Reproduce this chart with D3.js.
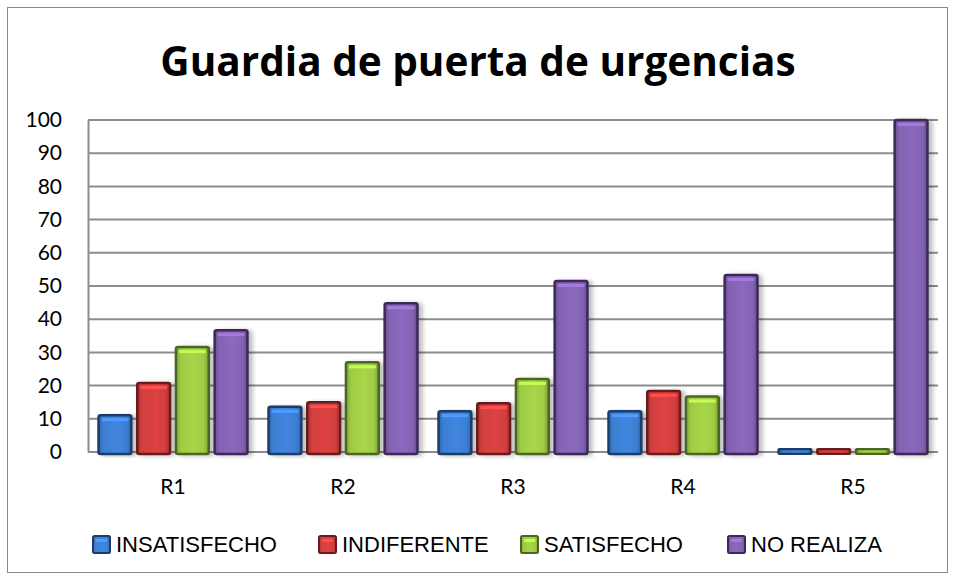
<!DOCTYPE html>
<meta charset="utf-8">

<head>
  <script src="https://d3js.org/d3.v7.min.js"></script>
  <style>
    body { margin: 0; background: #fff; }
  </style>
</head>

<body>
  <svg id="root"></svg>

  <script>
    // Data
    const categories = ["R1", "R2", "R3", "R4", "R5"];
    const seriesNames = ["INSATISFECHO", "INDIFERENTE", "SATISFECHO", "NO REALIZA"];
    const insatisfecho = [11.1, 13.6, 12.3, 12.3, 0];
    const indiferente = [20.8, 15.0, 14.7, 18.4, 0];
    const satisfecho = [31.6, 27.0, 22.0, 16.7, 0];
    const noRealiza = [36.7, 44.8, 51.5, 53.3, 100];
    const yTicks = [0, 10, 20, 30, 40, 50, 60, 70, 80, 90, 100];

    const seriesValues = [insatisfecho, indiferente, satisfecho, noRealiza];
    const fills = ["#3d7fd3", "#d23f3f", "#9fcb45", "#8463b3"];
    const edges = ["#1c3d6b", "#6a1a1a", "#4c6620", "#3b2a58"];

    const W = 955, H = 579;
    const plot = { left: 88, right: 938, top: 120, bottom: 452 };

    const svg = d3.select("#root").attr("width", W).attr("height", H);

    // outer frame
    svg.append("rect")
      .attr("x", 7.5).attr("y", 7.5)
      .attr("width", 940).attr("height", 565)
      .attr("fill", "#fff")
      .attr("stroke", "#888")
      .attr("stroke-width", 1);

    const defs = svg.append("defs");
    defs.append("filter")
      .attr("id", "shadow")
      .attr("x", "-20%").attr("y", "-5%").attr("width", "150%").attr("height", "115%")
      .append("feDropShadow")
      .attr("dx", 4).attr("dy", 1)
      .attr("stdDeviation", 2)
      .attr("flood-color", "#000")
      .attr("flood-opacity", 0.25);

    fills.forEach((c, i) => {
      const g = defs.append("linearGradient")
        .attr("id", "grad" + i)
        .attr("x1", "0%").attr("x2", "100%").attr("y1", "0%").attr("y2", "0%");
      g.append("stop").attr("offset", "0%").attr("stop-color", d3.color(c).darker(0.6));
      g.append("stop").attr("offset", "15%").attr("stop-color", c);
      g.append("stop").attr("offset", "55%").attr("stop-color", d3.color(c).brighter(0.15));
      g.append("stop").attr("offset", "85%").attr("stop-color", c);
      g.append("stop").attr("offset", "100%").attr("stop-color", d3.color(c).darker(0.7));
    });

    // Title
    svg.append("text")
      .attr("x", 478)
      .attr("y", 76)
      .attr("text-anchor", "middle")
      .style("font-family", "'Open Sans', 'Noto Sans', sans-serif")
      .style("font-weight", "bold")
      .style("font-size", "40.5px")
      .attr("fill", "#000")
      .text("Guardia de puerta de urgencias");

    // Scales
    const x0 = d3.scaleBand(categories, [plot.left, plot.right])
      .paddingInner(0.112)
      .paddingOuter(0.056);
    const x1 = d3.scaleBand(d3.range(seriesNames.length), [0, x0.bandwidth()])
      .paddingInner(0.1);
    const y = d3.scaleLinear([0, 100], [plot.bottom, plot.top]);

    // Gridlines
    svg.append("g")
      .selectAll("line")
      .data(yTicks)
      .join("line")
      .attr("x1", plot.left)
      .attr("x2", plot.right)
      .attr("y1", d => y(d))
      .attr("y2", d => y(d))
      .attr("stroke", "#8c8c8c")
      .attr("stroke-width", 2);

    // Y axis
    const yAxis = d3.axisLeft(y).tickValues(yTicks).tickSize(0).tickPadding(26);
    const yG = svg.append("g")
      .attr("transform", `translate(${plot.left},0)`)
      .call(yAxis);
    yG.select(".domain").attr("stroke", "#8c8c8c").attr("stroke-width", 2);
    yG.selectAll("text")
      .style("font-family", "'Lato', 'Open Sans', sans-serif")
      .style("font-size", "21px")
      .attr("fill", "#000");

    // X axis labels
    const xAxis = d3.axisBottom(x0).tickSize(0).tickPadding(27);
    const xG = svg.append("g")
      .attr("transform", `translate(0,${plot.bottom})`)
      .call(xAxis);
    xG.select(".domain").remove();
    xG.selectAll("text")
      .style("font-family", "'Lato', 'Open Sans', sans-serif")
      .style("font-size", "21px")
      .attr("fill", "#000");

    // Bars
    const groups = svg.append("g")
      .selectAll("g")
      .data(categories)
      .join("g")
      .attr("transform", d => `translate(${x0(d)},0)`);

    groups.each(function (cat, ci) {
      const g = d3.select(this);
      seriesValues.forEach((vals, si) => {
        const v = vals[ci];
        const top = Math.min(y(v), plot.bottom - 3);
        const bx = x1(si);
        const bw = x1.bandwidth();
        const bh = plot.bottom - top + 2;
        g.append("rect")
          .attr("x", bx + 1)
          .attr("y", top)
          .attr("width", bw - 2)
          .attr("height", bh)
          .attr("rx", 2)
          .attr("fill", `url(#grad${si})`)
          .attr("stroke", edges[si])
          .attr("stroke-width", 2.5)
          .attr("filter", "url(#shadow)");
        // top bevel highlight
        if (bh > 8) {
          g.append("rect")
            .attr("x", bx + 4)
            .attr("y", top + 3)
            .attr("width", bw - 8)
            .attr("height", 3)
            .attr("fill", d3.color(fills[si]).brighter(0.6));
        }
      });
    });

    // Legend
    const legendX = [92, 318, 520, 727];
    const legend = svg.append("g");
    seriesNames.forEach((name, i) => {
      legend.append("rect")
        .attr("x", legendX[i] + 1)
        .attr("y", 536)
        .attr("width", 17)
        .attr("height", 17)
        .attr("rx", 1.5)
        .attr("fill", `url(#grad${i})`)
        .attr("stroke", edges[i])
        .attr("stroke-width", 2);
      legend.append("rect")
        .attr("x", legendX[i] + 4)
        .attr("y", 539)
        .attr("width", 11)
        .attr("height", 3)
        .attr("fill", d3.color(fills[i]).brighter(0.6));
      legend.append("text")
        .attr("x", legendX[i] + 24)
        .attr("y", 552)
        .style("font-family", "'Liberation Sans', sans-serif")
        .style("font-size", "22px")
        .attr("fill", "#000")
        .text(name);
    });
  </script>
</body>
